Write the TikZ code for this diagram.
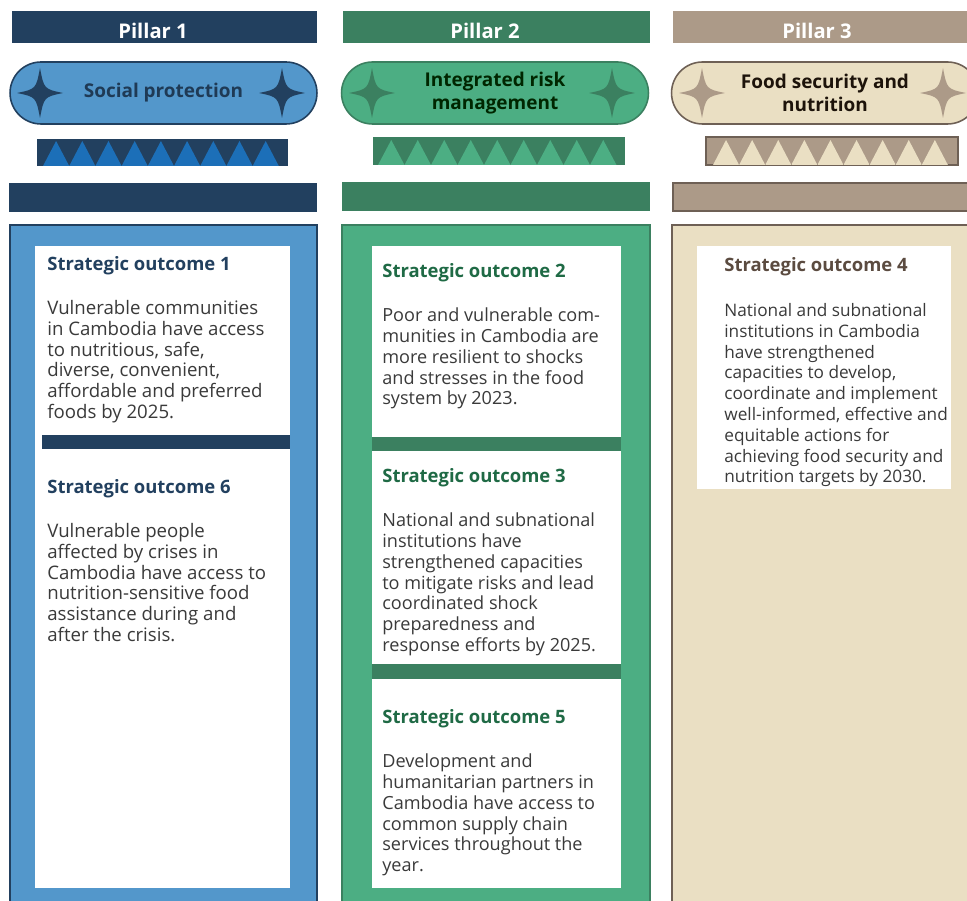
\documentclass[tikz,border=0pt]{standalone}
\usepackage{fontspec}
\setmainfont{Open Sans}
\definecolor{navy}{HTML}{22405F}
\definecolor{bluepanel}{HTML}{5397CB}
\definecolor{bluetri}{HTML}{1C6FB8}
\definecolor{greendark}{HTML}{3B8060}
\definecolor{greenpanel}{HTML}{4CAE83}
\definecolor{greenhead}{HTML}{1F6A45}
\definecolor{taupe}{HTML}{AC9A88}
\definecolor{taupeline}{HTML}{6E6055}
\definecolor{beige}{HTML}{EADFC3}
\definecolor{brownhead}{HTML}{5B4B40}
\definecolor{bodytext}{HTML}{3A3A3A}
\tikzset{
  pillar/.style={inner sep=0pt, text=white, font=\fontsize{11.5}{13}\selectfont\bfseries},
  theme/.style={fill=#1, minimum width=6.14cm, minimum height=1.24cm, rounded corners=0.62cm,
    line width=0.9pt, inner sep=0pt, align=center, font=\fontsize{10.8}{13}\selectfont\bfseries},
  outhead/.style={anchor=base west, inner sep=0pt, font=\fontsize{10.5}{12}\selectfont\bfseries},
  outtext/.style={anchor=north west, inner sep=0pt, align=left, text=bodytext,
    font=\fontsize{#1}{11.85}\selectfont},
  sparkle/.pic={\path[pic actions] (0,25) .. controls (4,4) .. (23,0) .. controls (4,-4) .. (0,-25)
    .. controls (-4,-4) .. (-23,0) .. controls (-4,4) .. (0,25) -- cycle;}
}
\begin{document}
\begin{tikzpicture}[x=0.02cm, y=-0.02cm]
  \useasboundingbox (0,0) rectangle (967,901);
  \clip (0,0) rectangle (967,901);

  %Pillar 1
  \fill[navy] (12,11) rectangle (317,43);
  \node[pillar] (pillarA) at (153,30.5) {Pillar 1};
  \node[theme=bluepanel, draw=navy, text=navy!90!black] (themeA) at (163.5,93) {Social protection};
  \pic[fill=navy] at (40,93) {sparkle};
  \pic[fill=navy] at (282,93) {sparkle};
  \fill[navy] (37,139) rectangle (288,166);
  \foreach \i in {0,...,8}
    \fill[bluetri] ({43+26.2*\i},166) -- ++(13.1,-25) -- ++(13.1,25) -- cycle;
  \fill[navy] (9,183) rectangle (317,212);
  \filldraw[fill=bluepanel, draw=navy, line width=1pt] (10,225) rectangle (317,920);
  \fill[white] (35,246) rectangle (290,888);
  \fill[navy] (42,435) rectangle (290,449);
  \node[outhead, text=navy] (soA) at (47,271) {Strategic outcome 1};
  \node[outtext=10.6] (soAtext) at (47,300) {Vulnerable communities\\in Cambodia have access\\to nutritious, safe,\\diverse, convenient,\\affordable and preferred\\foods by 2025.};
  \node[outhead, text=navy] (soF) at (47,494) {Strategic outcome 6};
  \node[outtext=10.6] (soFtext) at (47,523) {Vulnerable people\\affected by crises in\\Cambodia have access to\\nutrition-sensitive food\\assistance during and\\after the crisis.};

  %Pillar 2
  \fill[greendark] (343,11) rectangle (650,43);
  \node[pillar] (pillarB) at (485,30.5) {Pillar 2};
  \node[theme=greenpanel, draw=greendark, text=black!85!green] (themeB) at (495,93) {Integrated risk\\management};
  \pic[fill=greendark] at (372,93) {sparkle};
  \pic[fill=greendark] at (612,93) {sparkle};
  \fill[greendark] (373,137) rectangle (625,165);
  \foreach \i in {0,...,8}
    \fill[greenpanel] ({378+26.5*\i},165) -- ++(13.25,-25) -- ++(13.25,25) -- cycle;
  \fill[greendark] (342,182) rectangle (650,211);
  \filldraw[fill=greenpanel, draw=greendark, line width=1pt] (342,225) rectangle (650,920);
  \fill[white] (372,246) rectangle (621,888);
  \fill[greendark] (372,437) rectangle (621,451);
  \fill[greendark] (372,664) rectangle (621,679);
  \node[outhead, text=greenhead] (soB) at (382,278) {Strategic outcome 2};
  \node[outtext=10.3] (soBtext) at (382,307.5) {Poor and vulnerable com-\\munities in Cambodia are\\more resilient to shocks\\and stresses in the food\\system by 2023.};
  \node[outhead, text=greenhead] (soC) at (382,483) {Strategic outcome 3};
  \node[outtext=10.3] (soCtext) at (382,512.5) {National and subnational\\institutions have\\strengthened capacities\\to mitigate risks and lead\\coordinated shock\\preparedness and\\response efforts by 2025.};
  \node[outhead, text=greenhead] (soE) at (382,724) {Strategic outcome 5};
  \node[outtext=10.3] (soEtext) at (382,753.5) {Development and\\humanitarian partners in\\Cambodia have access to\\common supply chain\\services throughout the\\year.};

  %Pillar 3
  \fill[taupe] (673,11) rectangle (980,43);
  \node[pillar] (pillarC) at (817,30.5) {Pillar 3};
  \node[theme=beige, draw=taupeline, text=black!85!brown] (themeC) at (825,93) {Food security and\\nutrition};
  \pic[fill=taupe] at (702,93) {sparkle};
  \pic[fill=taupe] at (943,93) {sparkle};
  \filldraw[fill=taupe, draw=taupeline, line width=0.7pt] (706,137) rectangle (958,165);
  \foreach \i in {0,...,8}
    \fill[beige] ({713+26.1*\i},165) -- ++(13.05,-25) -- ++(13.05,25) -- cycle;
  \filldraw[fill=taupe, draw=taupeline, line width=0.7pt] (673,183) rectangle (980,211);
  \filldraw[fill=beige, draw=taupeline, line width=1pt] (672,225) rectangle (990,920);
  \fill[white] (697,246) rectangle (951,489);
  \node[outhead, text=brownhead] (soD) at (724,272) {Strategic outcome 4};
  \node[outtext=9.8] (soDtext) at (724,303) {National and subnational\\institutions in Cambodia\\have strengthened\\capacities to develop,\\coordinate and implement\\well-informed, effective and\\equitable actions for\\achieving food security and\\nutrition targets by 2030.};
\end{tikzpicture}
\end{document}
